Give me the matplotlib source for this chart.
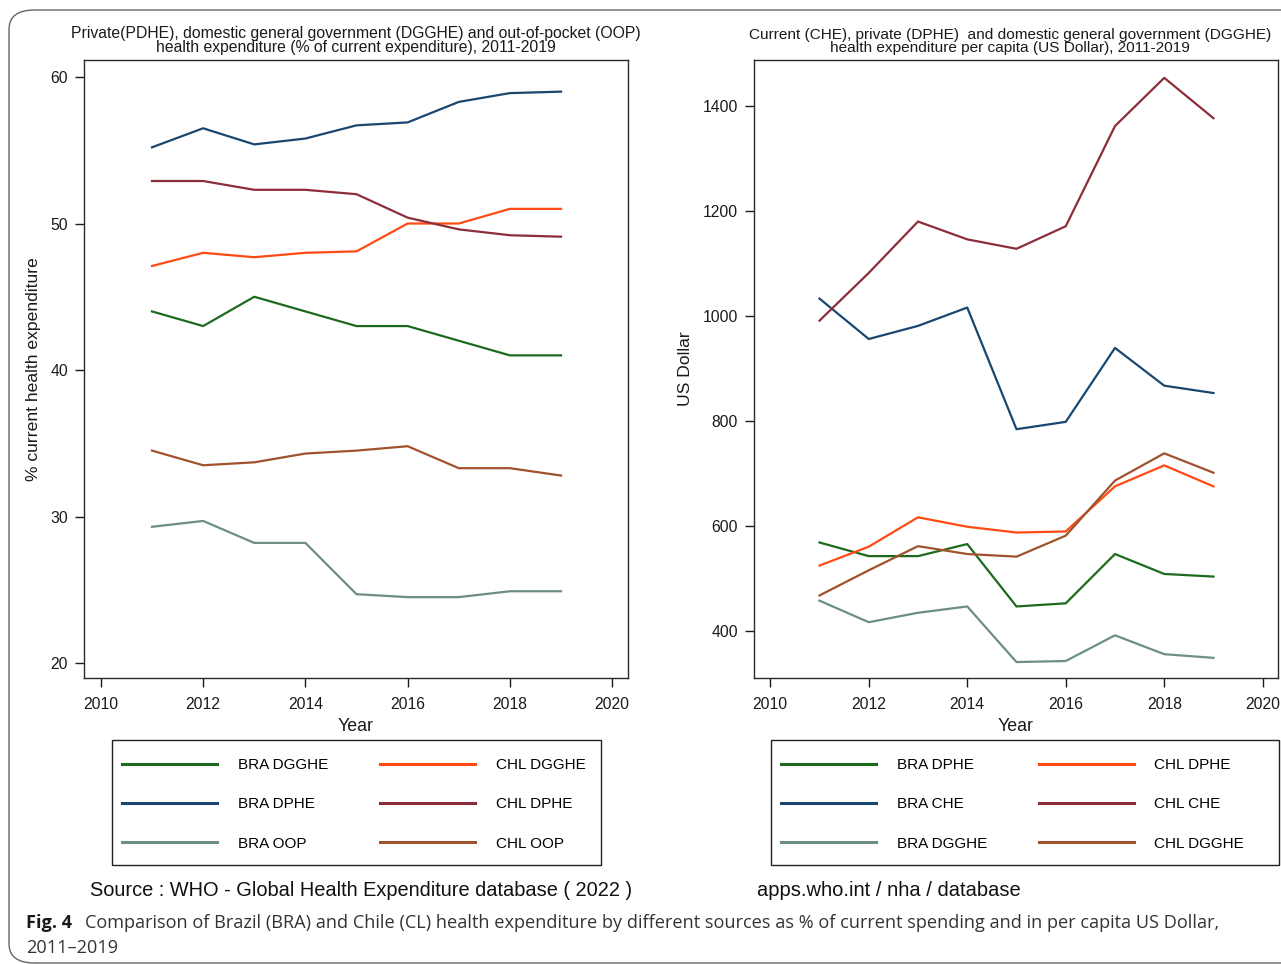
"""Brazil vs Chile health expenditure, 2011-2019 (two Stata-style panels)."""

import matplotlib

matplotlib.use("Agg")

import matplotlib.pyplot as plt  # noqa: E402
from matplotlib.patches import FancyBboxPatch, Rectangle  # noqa: E402

plt.rcParams["font.family"] = ["Liberation Sans", "DejaVu Sans"]

W, H = 1281, 964

years = [2011, 2012, 2013, 2014, 2015, 2016, 2017, 2018, 2019]

# left panel: % of current health expenditure
bra_dgghe_pct = [44.0, 43.0, 45.0, 44.0, 43.0, 43.0, 42.0, 41.0, 41.0]
bra_dphe_pct = [55.2, 56.5, 55.4, 55.8, 56.7, 56.9, 58.3, 58.9, 59.0]
bra_oop_pct = [29.3, 29.7, 28.2, 28.2, 24.7, 24.5, 24.5, 24.9, 24.9]
chl_dgghe_pct = [47.1, 48.0, 47.7, 48.0, 48.1, 50.0, 50.0, 51.0, 51.0]
chl_dphe_pct = [52.9, 52.9, 52.3, 52.3, 52.0, 50.4, 49.6, 49.2, 49.1]
chl_oop_pct = [34.5, 33.5, 33.7, 34.3, 34.5, 34.8, 33.3, 33.3, 32.8]

# right panel: per capita, US Dollar
bra_dphe_usd = [568, 542, 542, 565, 446, 452, 546, 508, 503]
bra_che_usd = [1033, 956, 981, 1016, 784, 798, 939, 867, 853]
bra_dgghe_usd = [457, 416, 434, 446, 340, 342, 391, 355, 348]
chl_dphe_usd = [524, 560, 616, 598, 587, 589, 675, 715, 675]
chl_che_usd = [991, 1082, 1180, 1146, 1128, 1171, 1362, 1454, 1377]
chl_dgghe_usd = [467, 515, 561, 546, 541, 581, 686, 738, 701]

GREEN = "#1d6a1d"
NAVY = "#1a476f"
TEAL = "#6e8e84"
ORANGE = "#ff4a14"
MAROON = "#8b2e3a"
SIENNA = "#a0522d"
INK = "#1a1a1a"
FRAME = "#2a2a2a"

left_series = [
    (bra_dgghe_pct, GREEN, "BRA DGGHE"),
    (bra_dphe_pct, NAVY, "BRA DPHE"),
    (bra_oop_pct, TEAL, "BRA OOP"),
    (chl_dgghe_pct, ORANGE, "CHL DGGHE"),
    (chl_dphe_pct, MAROON, "CHL DPHE"),
    (chl_oop_pct, SIENNA, "CHL OOP"),
]
right_series = [
    (bra_dphe_usd, GREEN, "BRA DPHE"),
    (bra_che_usd, NAVY, "BRA CHE"),
    (bra_dgghe_usd, TEAL, "BRA DGGHE"),
    (chl_dphe_usd, ORANGE, "CHL DPHE"),
    (chl_che_usd, MAROON, "CHL CHE"),
    (chl_dgghe_usd, SIENNA, "CHL DGGHE"),
]


def px_box(x0, y0, x1, y1):
    """Pixel box (top-left origin) -> figure fraction rect."""
    return [x0 / W, 1 - y1 / H, (x1 - x0) / W, (y1 - y0) / H]


fig = plt.figure(figsize=(W / 100, H / 100), dpi=100)

# rounded page frame, cut off at the right edge as in the source
fig.patches.append(
    FancyBboxPatch(
        (9 / W, 1 - 963 / H), 1.2, (963 - 10) / H,
        boxstyle="round,pad=0,rounding_size=0.02",
        transform=fig.transFigure, facecolor="none",
        edgecolor="#666666", linewidth=1.0,
    )
)


def panel(rect, series, ylim, yticks, ylabel, ylabel_x, title, title_size,
          title_x, legend_px):
    ax = fig.add_axes(rect)
    handles = []
    for vals, color, label in series:
        (h,) = ax.plot(years, vals, color=color, linewidth=1.6, label=label)
        handles.append(h)
    ax.set_xlim(2009.67, 2020.31)
    ax.set_ylim(*ylim)
    ax.set_xticks([2010, 2012, 2014, 2016, 2018, 2020])
    ax.set_yticks(yticks)
    ax.tick_params(direction="out", length=6.5, width=1.0, colors=INK,
                   labelsize=11.3, top=False, right=False)
    ax.tick_params(axis="x", pad=7.2)
    ax.tick_params(axis="y", pad=5)
    for s in ax.spines.values():
        s.set_color(FRAME)
        s.set_linewidth(1.0)
    ax.set_xlabel("Year", fontsize=12.8, color=INK)
    ax.xaxis.set_label_coords(0.5, -0.064)
    ax.set_ylabel(ylabel, fontsize=12.6, color=INK)
    ax.yaxis.set_label_coords(ylabel_x, 0.5)
    t = ax.set_title(title, fontsize=title_size, color=INK, linespacing=0.89, pad=6)
    t.set_x(title_x)

    # legend box drawn separately; Stata uses fixed-width columns
    x0, y0, x1, y1 = legend_px
    fig.patches.append(
        Rectangle((x0 / W, 1 - y1 / H), (x1 - x0) / W, (y1 - y0) / H,
                  transform=fig.transFigure, facecolor="white",
                  edgecolor="#222222", linewidth=1.0, zorder=0)
    )
    leg = fig.legend(
        handles, [h.get_label() for h in handles], ncol=2,
        loc="upper left", bbox_to_anchor=((x0 + 10) / W, 1 - (y0 + 18) / H),
        fontsize=11, frameon=False, handlelength=6.2, handletextpad=1.37,
        labelspacing=1.66, columnspacing=3.4, borderpad=0, borderaxespad=0,
    )
    for line in leg.get_lines():
        line.set_linewidth(2.2)
    return ax


panel(
    px_box(84, 60, 628, 678), left_series, (18.98, 61.16), [20, 30, 40, 50, 60],
    "% current health expenditure", -0.079,
    "Private(PDHE), domestic general government (DGGHE) and out-of-pocket (OOP)\n"
    "health expenditure (% of current expenditure), 2011-2019",
    11.3, 0.5,
    (112, 740, 601, 865),
)
panel(
    px_box(754, 60, 1278, 678), right_series, (309.6, 1488), [400, 600, 800, 1000, 1200, 1400],
    "US Dollar", -0.116,
    "Current (CHE), private (DPHE)  and domestic general government (DGGHE)\n"
    "health expenditure per capita (US Dollar), 2011-2019",
    11.1, 0.489,
    (771, 740, 1279, 865),
)

fig.text(90 / W, 1 - 891 / H, "Source : WHO - Global Health Expenditure database ( 2022 )",
         fontsize=14.4, color="#111111", va="center", ha="left")
fig.text(757 / W, 1 - 891 / H, "apps.who.int / nha / database",
         fontsize=14.5, color="#111111", va="center", ha="left")

cap_font = ["Open Sans", "DejaVu Sans"]
fig.text(26 / W, 1 - 923 / H, "Fig. 4", family=cap_font, fontweight="bold",
         fontsize=13.1, color="#1a1a1a", va="center", ha="left")
fig.text(85 / W, 1 - 923 / H,
         "Comparison of Brazil (BRA) and Chile (CL) health expenditure by different sources "
         "as % of current spending and in per capita US Dollar,",
         family=cap_font, fontsize=13.1, color="#333333", va="center", ha="left")
fig.text(26 / W, 1 - 948 / H, "2011\u20132019", family=cap_font,
         fontsize=13.1, color="#333333", va="center", ha="left")

fig.savefig("out.png", dpi=100, facecolor="white")
